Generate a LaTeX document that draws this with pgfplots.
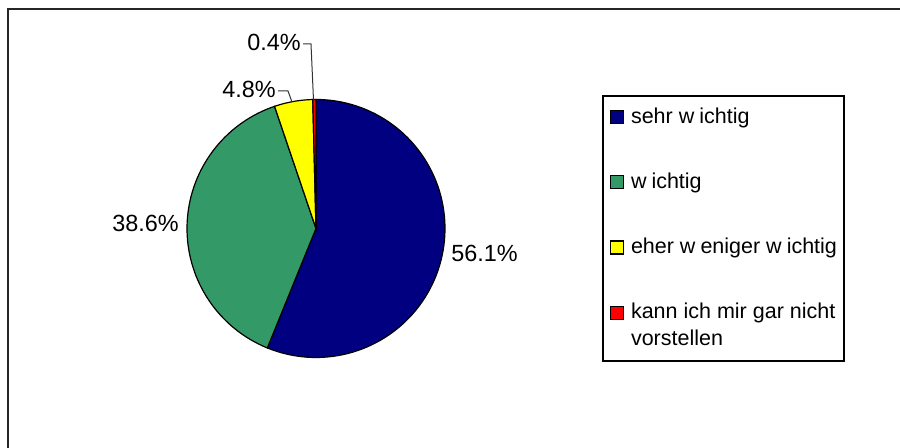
\documentclass[border=0pt]{standalone}
\usepackage{fontspec}
\setmainfont{Liberation Sans}
\usepackage{pgfplots}
\usepackage{pgfplotstable}
\pgfplotsset{compat=1.18}

\definecolor{sehrw}{HTML}{000080}
\definecolor{wicht}{HTML}{339966}
\definecolor{wenig}{HTML}{FFFF00}
\definecolor{nicht}{HTML}{FF0000}

% share of answers in percent, clockwise from 12 o'clock
\pgfplotstableread{
share
56.1
38.6
4.8
0.4
}\piedata

\begin{document}
\begin{tikzpicture}
\pgfplotstablegetelem{0}{share}\of\piedata \let\va\pgfplotsretval
\pgfplotstablegetelem{1}{share}\of\piedata \let\vb\pgfplotsretval
\pgfplotstablegetelem{2}{share}\of\piedata \let\vc\pgfplotsretval
\pgfplotstablegetelem{3}{share}\of\piedata \let\vd\pgfplotsretval
\pgfmathsetmacro\S{\va+\vb+\vc+\vd}
\pgfmathsetmacro\aA{90-(\va/\S)*360}
\pgfmathsetmacro\aB{\aA-(\vb/\S)*360}
\pgfmathsetmacro\aC{\aB-(\vc/\S)*360}
\pgfmathsetmacro\aD{\aC-(\vd/\S)*360}
\def\cx{316}\def\cy{219.5}\def\rr{129}
\begin{axis}[
  scale only axis,
  width=450pt, height=224pt,
  xmin=0, xmax=900, ymin=0, ymax=448,
  hide axis,
  legend style={at={(axis cs:602,353)}, anchor=north west,
    draw=black, line width=0.8pt,
    inner xsep=3.5pt, inner ysep=6pt,
    row sep=23.3pt, column sep=3.5pt,
    nodes={inner sep=0pt, align=left},
    font=\fontsize{10.75}{13.5}\selectfont},
  legend cell align=left,
  legend image code/.code={\draw[#1, draw=black, line width=0.6pt] (0pt,-3.25pt) rectangle (6.5pt,3.25pt);},
]
% frame of the chart area (cut off at right and bottom)
\addplot[forget plot, black!85, line width=0.8pt] coordinates {(8,0) (8,439) (900,439)};

\addplot[fill=sehrw, draw=black, line width=0.6pt, domain=\aA:90, samples=90, variable=\t]
  ({\cx+\rr*cos(\t)}, {\cy+\rr*sin(\t)}) -- (\cx,\cy) -- cycle;
\addlegendentry{sehr w\kern2.5pt ichtig}
\addplot[fill=wicht, draw=black, line width=0.6pt, domain=\aB:\aA, samples=70, variable=\t]
  ({\cx+\rr*cos(\t)}, {\cy+\rr*sin(\t)}) -- (\cx,\cy) -- cycle;
\addlegendentry{w\kern2.5pt ichtig}
\addplot[fill=wenig, draw=black, line width=0.6pt, domain=\aC:\aB, samples=12, variable=\t]
  ({\cx+\rr*cos(\t)}, {\cy+\rr*sin(\t)}) -- (\cx,\cy) -- cycle;
\addlegendentry{eher w\kern2.5pt eniger w\kern2.5pt ichtig}
% two-line entry: its marker sits beside the first line
\addplot[fill=nicht, draw=black, line width=0.6pt, domain=\aD:\aC, samples=4, variable=\t,
  legend image code/.code={\draw[fill=nicht, draw=black, line width=0.6pt] (0pt,3.5pt) rectangle (6.5pt,10pt);}]
  ({\cx+\rr*cos(\t)}, {\cy+\rr*sin(\t)}) -- (\cx,\cy) -- cycle;
\addlegendentry{kann ich mir gar nicht\\vorstellen}

% leader lines for the small slices
\addplot[forget plot, black!80, line width=0.5pt] coordinates {(278,357) (288,357) (292,346)};
\addplot[forget plot, black!80, line width=0.5pt] coordinates {(303,404) (311,404) (313.5,348)};

\begin{scope}[font=\fontsize{11.7}{14}\selectfont]
\node[anchor=base west, inner sep=0pt] at (axis cs:451,186) {56.1\%};
\node[anchor=base west, inner sep=0pt] at (axis cs:112,216) {38.6\%};
\node[anchor=base east, inner sep=0pt] at (axis cs:276,350) {4.8\%};
\node[anchor=base east, inner sep=0pt] at (axis cs:301,397) {0.4\%};
\end{scope}
\end{axis}
\pgfresetboundingbox
\path (current axis.south west) rectangle (current axis.north east);
\end{tikzpicture}
\end{document}
